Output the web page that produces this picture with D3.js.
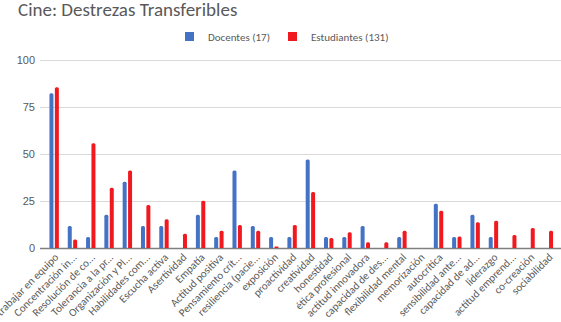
<!DOCTYPE html>
<html lang="es">
<head>
<meta charset="UTF-8">
<title>Cine: Destrezas Transferibles</title>
<script src="https://d3js.org/d3.v7.min.js"></script>
<style>
    body { margin: 0; background: #fff; }
    svg { display: block; font-family: Carlito, "Open Sans", sans-serif; }
    .title { font-size: 19px; fill: #595959; }
    .tick text, .legend text, .xlabel { font-size: 11px; fill: #595959; }
</style>
</head>
<body>
<svg id="chart" width="561" height="322"></svg>
<script>
    // categorias (etiquetas tal como aparecen, truncadas)
    const categories = [
        "trabajar en equipo", "Concentración in...", "Resolución de co...", "Tolerancia a la pr...",
        "Organización y Pl...", "Habilidades com...", "Escucha activa", "Asertividad",
        "Empatía", "Actitud positiva", "Pensamiento crít...", "resiliencia (pacie...",
        "exposición", "proactividad", "creatividad", "honestidad",
        "ética profesional", "actitud innovadora", "capacidad de des...", "flexibilidad mental",
        "memorización", "autocrítica", "sensibilidad ante...", "capacidad de ad...",
        "liderazgo", "actitud emprend...", "co-creación", "sociabilidad"
    ];

    // % de docentes (n = 17)
    const docentes = [
        82.35, 11.76, 5.88, 17.65, 35.29, 11.76, 11.76, 0,
        17.65, 5.88, 41.18, 11.76, 5.88, 5.88, 47.06, 5.88,
        5.88, 11.76, 0, 5.88, 0, 23.53, 5.88, 17.65,
        5.88, 0, 0, 0
    ];

    // % de estudiantes (n = 131)
    const estudiantes = [
        85.5, 4.58, 55.73, 32.06, 41.22, 22.9, 15.27, 7.63,
        25.19, 9.16, 12.21, 9.16, 0.76, 12.21, 29.77, 5.34,
        8.4, 3.05, 3.05, 9.16, 0, 19.85, 6.11, 13.74,
        14.5, 6.87, 10.69, 9.16
    ];

    const seriesNames = ["Docentes (17)", "Estudiantes (131)"];
    const colors = ["#4472c4", "#f0191f"];
    const yTicks = [0, 25, 50, 75, 100];

    const svg = d3.select("#chart");
    const W = 561;
    const margin = { top: 60, left: 40, bottom: 74, right: 0 };
    const plotBottom = 248;

    const x = d3.scaleBand()
        .domain(categories)
        .range([45, 557.5])
        .paddingInner(0);

    const y = d3.scaleLinear()
        .domain([0, 100])
        .range([plotBottom, margin.top]);

    // titulo
    svg.append("text")
        .attr("class", "title")
        .attr("x", 18)
        .attr("y", 16)
        .text("Cine: Destrezas Transferibles");

    // leyenda
    const legend = svg.append("g").attr("class", "legend");
    const legendX = [185, 288];
    seriesNames.forEach(function (name, i) {
        legend.append("rect")
            .attr("x", legendX[i])
            .attr("y", 32)
            .attr("width", 9)
            .attr("height", 9)
            .attr("fill", colors[i]);
        legend.append("text")
            .attr("x", legendX[i] + 23)
            .attr("y", 40.5)
            .text(name);
    });

    // rejilla y eje y
    const yAxis = svg.append("g")
        .attr("transform", "translate(40,0)")
        .call(d3.axisLeft(y).tickValues(yTicks).tickSize(-(W - 40)).tickPadding(5));
    yAxis.select(".domain").remove();
    yAxis.selectAll(".tick line")
        .attr("stroke", d => d === 0 ? "#7f7f7f" : "#d9d9d9")
        .attr("stroke-width", d => d === 0 ? 1.3 : 1);
    yAxis.selectAll(".tick text").attr("font-family", null).attr("font-size", null);

    // barras
    const barW = 4;
    const gap = 1.4;
    const groups = svg.append("g").selectAll("g")
        .data(categories)
        .join("g")
        .attr("transform", d => `translate(${x(d) + x.bandwidth() / 2},0)`);

    [docentes, estudiantes].forEach(function (vals, s) {
        groups.filter((d, i) => vals[i] > 0)
            .append("path")
            .attr("fill", colors[s])
            .attr("d", function (d) {
                const i = categories.indexOf(d);
                const x0 = s === 0 ? -barW - gap / 2 : gap / 2;
                const top = y(vals[i]);
                const h = plotBottom - top;
                const r = Math.min(1.5, h / 2);
                return `M${x0},${plotBottom}V${top + r}Q${x0},${top} ${x0 + r},${top}` +
                    `H${x0 + barW - r}Q${x0 + barW},${top} ${x0 + barW},${top + r}V${plotBottom}Z`;
            });
    });

    // etiquetas del eje x
    groups.append("text")
        .attr("class", "xlabel")
        .attr("text-anchor", "end")
        .attr("transform", "translate(5,258) rotate(-45)")
        .text(d => d);
</script>
</body>
</html>
